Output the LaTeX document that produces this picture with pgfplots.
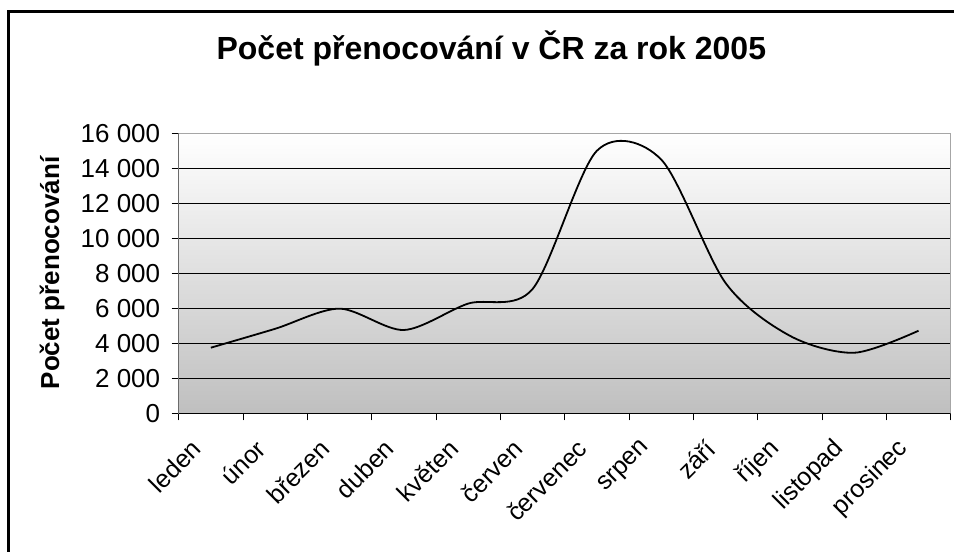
\documentclass[border=0pt]{standalone}
\usepackage{pgfplots}
\pgfplotsset{compat=1.18}
\usepackage{fontspec}
\setmainfont{Liberation Sans}
\begin{document}
\begin{tikzpicture}
\useasboundingbox (0bp,0bp) rectangle (954bp,-552bp);
\draw[line width=2.5bp] (8.7bp,-560bp) -- (8.7bp,-11.3bp) -- (960bp,-11.3bp);
\begin{axis}[
  at={(178.7bp,-413.3bp)}, anchor=south west,
  width=772bp, height=280bp, scale only axis,
  xmin=0.5, xmax=12.5, ymin=0, ymax=16000,
  scaled y ticks=false,
  xtick={0.5,1.5,...,12.5}, x tick label as interval,
  xticklabels={leden,únor,březen,duben,květen,červen,červenec,srpen,září,říjen,listopad,prosinec},
  ytick={0,2000,...,16000},
  yticklabels={0,2 000,4 000,6 000,8 000,10 000,12 000,14 000,16 000},
  xtick pos=left, ytick pos=left,
  tick align=outside, major tick length=7bp,
  tick style={black, line width=0.8bp},
  ymajorgrids, grid style={black, line width=0.9bp},
  axis line style={draw=gray!70, line width=1bp},
  axis background/.style={shade, top color=white, bottom color=black!25},
  yticklabel style={font=\fontsize{26bp}{31bp}\selectfont, anchor=east, xshift=-8bp},
  xticklabel style={font=\fontsize{25bp}{30bp}\selectfont, xshift=-12bp, yshift=-22bp, rotate=45, anchor=east},
  title={Počet přenocování v ČR za rok 2005},
  title style={font=\bfseries\fontsize{32bp}{38bp}\selectfont, at={(axis description cs:0.405,1.242)}, anchor=base},
  ylabel={Počet přenocování},
  ylabel style={font=\bfseries\fontsize{26bp}{30bp}\selectfont, at={(axis description cs:-0.164,0.501)}, anchor=center},
]
\addplot[black, line width=1.8bp, smooth, tension=0.5, mark=none] coordinates {
(1,3750) (2,4830) (3,5980) (4,4760) (5,6270) (6,7100)
(7,15000) (8,14500) (9,7450) (10,4430) (11,3460) (12,4720)
};
\draw[black, line width=1.5bp] (rel axis cs:0,1) -- (rel axis cs:0,0) -- (rel axis cs:1,0);
\end{axis}
\end{tikzpicture}
\end{document}
